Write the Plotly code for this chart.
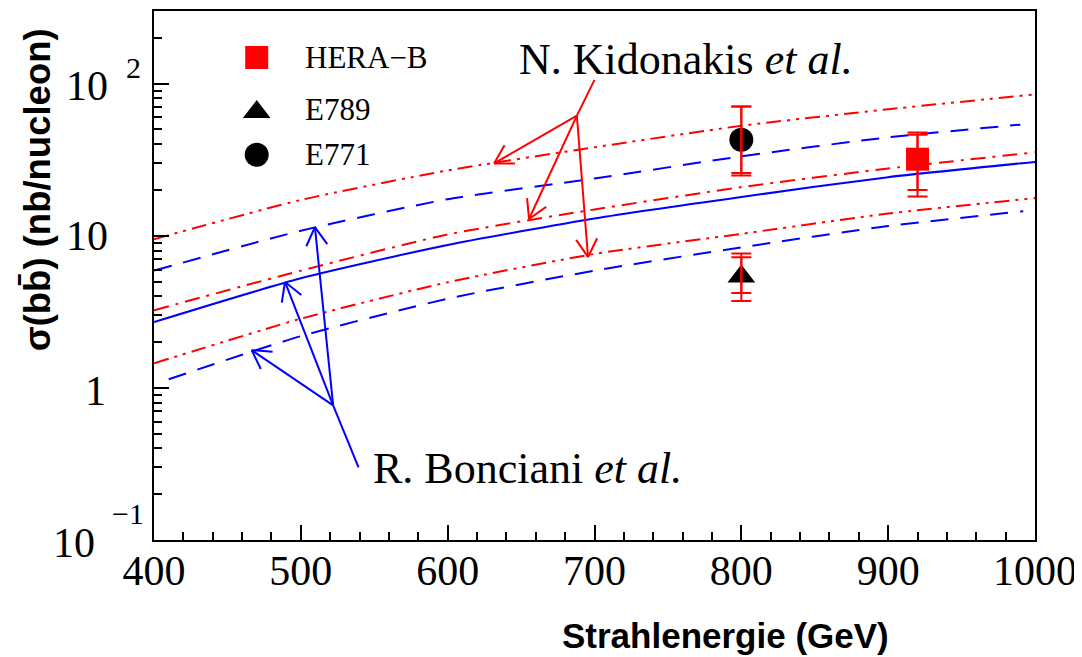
import math
import plotly.graph_objects as go

# ---------------- data ----------------
energy = [400, 500, 600, 700, 800, 900, 1000]
kid_upper = [9.5, 17.2, 26.9, 38.2, 52.9, 67.9, 85.1]
kid_central = [3.24, 5.9, 10.2, 14.9, 20.9, 27.7, 35.4]
kid_lower = [1.45, 2.85, 4.95, 7.6, 10.3, 14.0, 17.7]

bon_energy_upper = [400, 500, 600, 700, 800, 900, 990]
bon_upper = [5.9, 10.8, 17.4, 23.8, 33.3, 44.4, 53.8]
bon_central = [2.71, 5.26, 8.7, 13.0, 18.0, 24.3, 30.6]
bon_energy_lower = [410, 500, 600, 700, 800, 900, 992]
bon_lower = [1.14, 2.19, 3.86, 5.9, 8.4, 11.6, 14.5]

# measurements: energy, value, inner (lo, hi), outer (lo, hi)
hera_E = [920]
hera_val = [31.9]
hera_inner = ([20.0], [46.2])
hera_outer = ([18.1], [47.8])

e789_E = [800]
e789_val = [5.4]
e789_inner = ([4.20], [7.22])
e789_outer = ([3.72], [7.66])

e771_E = [800]
e771_val = [42.8]
e771_inner = ([25.9], [70.8])
e771_outer = ([24.9], [70.8])

legend_names = ["HERA\u2212B", "E789", "E771"]

# annotation arrows (data coords): hub, tail end, tips
kid_hub = (688, 61.7)
kid_tail = (700, 106)
kid_tips = [(631.6, 29.9), (655.4, 12.9), (695.6, 7.24)]
bon_hub = (522, 0.768)
bon_tail = (539.3, 0.30)
bon_tips = [(466.5, 1.77), (489.2, 4.97), (509.6, 11.4)]

# ---------------- layout constants ----------------
OFF = 8  # page body margin in the browser
W, H = 1082 - OFF, 657 - OFF
ML, MT = 154 - OFF, 9 - OFF
PR, PB = 1035 - OFF, 540 - OFF
MR, MB = W - PR, H - PB
PW, PH = PR - ML, PB - MT
XR = [400, 1000]
YR = [-1, 2.478]

RED = "#ff0000"
BLUE = "#0000ff"
SERIF = "Liberation Serif"
SANS = "Liberation Sans"


def to_paper(e, v):
    return ((e - XR[0]) / (XR[1] - XR[0]),
            (math.log10(v) - YR[0]) / (YR[1] - YR[0]))


def px_paper(px, py):
    # px, py: pixel position in the final screenshot
    return (px - OFF - ML) / PW, (PB - (py - OFF)) / PH


fig = go.Figure()

dash_dd = "15px,6px,3px,6px,3px,6px"
dash_d = "15px,7px,3px,7px"
dash_b = "18px,12px"

curves = [
    (energy, kid_upper, RED, dash_dd),
    (bon_energy_upper, bon_upper, BLUE, dash_b),
    (energy, kid_central, RED, dash_d),
    (energy, bon_central, BLUE, "solid"),
    (energy, kid_lower, RED, dash_dd),
    (bon_energy_lower, bon_lower, BLUE, dash_b),
]
for xs, ys, col, dsh in curves:
    fig.add_trace(go.Scatter(x=xs, y=ys, mode="lines", showlegend=False,
                             line=dict(color=col, width=2, dash=dsh, shape="spline", smoothing=0.6),
                             hoverinfo="skip"))

# markers
points = [
    (hera_E, hera_val, "square", RED, 23, hera_inner, hera_outer),
    (e789_E, e789_val, "triangle-up", "black", 24, e789_inner, e789_outer),
    (e771_E, e771_val, "circle", "black", 24, e771_inner, e771_outer),
]
for xs, ys, sym, col, sz, inner, outer in points:
    fig.add_trace(go.Scatter(x=xs, y=ys, mode="markers", showlegend=False,
                             marker=dict(symbol=sym, color=col, size=sz, line=dict(width=0))))
for xs, ys, sym, col, sz, inner, outer in points:
    for lo, hi in (inner, outer):
        fig.add_trace(go.Scatter(
            x=xs, y=ys, mode="markers", showlegend=False,
            marker=dict(size=1, opacity=0),
            error_y=dict(type="data", symmetric=False,
                         array=[h - v for h, v in zip(hi, ys)],
                         arrayminus=[v - l for l, v in zip(lo, ys)],
                         color=RED, thickness=2, width=10)))

# manual legend (overlay axes in paper units)
leg_pos = [(256.7, 55.7), (256.7, 110.5), (256.7, 153.3)]
for (lx, ly), (xs, ys, sym, col, sz, _, _) in zip(leg_pos, points):
    px_, py_ = px_paper(lx, ly)
    fig.add_trace(go.Scatter(x=[px_], y=[py_], xaxis="x2", yaxis="y2", mode="markers",
                             showlegend=False,
                             marker=dict(symbol=sym, color=col, size=sz, line=dict(width=0))))

annotations = []
leg_text_y = [56, 108, 153]
for ty, name in zip(leg_text_y, legend_names):
    ax_, ay_ = px_paper(303, ty)
    annotations.append(dict(x=ax_, y=ay_, xref="paper", yref="paper", text=name,
                            showarrow=False, xanchor="left", yanchor="middle",
                            font=dict(family=SERIF, size=31, color="black")))

# arrows
shapes = []


def add_arrow(hub, tip, col):
    hx, hy = to_paper(*hub)
    tx, ty = to_paper(*tip)
    shapes.append(dict(type="line", xref="paper", yref="paper", x0=hx, y0=hy, x1=tx, y1=ty,
                       line=dict(color=col, width=2)))
    dx, dy = (hx - tx) * PW, (hy - ty) * PH
    n = math.hypot(dx, dy)
    ux, uy = dx / n, dy / n
    L, a = 21, math.radians(30)
    for s in (1, -1):
        rx = ux * math.cos(s * a) - uy * math.sin(s * a)
        ry = ux * math.sin(s * a) + uy * math.cos(s * a)
        shapes.append(dict(type="line", xref="paper", yref="paper", x0=tx, y0=ty,
                           x1=tx + rx * L / PW, y1=ty + ry * L / PH,
                           line=dict(color=col, width=2)))


def add_segment(p, q, col):
    x0, y0 = to_paper(*p)
    x1, y1 = to_paper(*q)
    shapes.append(dict(type="line", xref="paper", yref="paper", x0=x0, y0=y0, x1=x1, y1=y1,
                       line=dict(color=col, width=2)))


add_segment(kid_hub, kid_tail, RED)
for t in kid_tips:
    add_arrow(kid_hub, t, RED)
add_segment(bon_hub, bon_tail, BLUE)
for t in bon_tips:
    add_arrow(bon_hub, t, BLUE)

# text labels
kx, ky = px_paper(686, 58)
annotations.append(dict(x=kx, y=ky, xref="paper", yref="paper", showarrow=False,
                        text="N. Kidonakis <i>et al.</i>", xanchor="center", yanchor="middle",
                        font=dict(family=SERIF, size=44, color="black")))
bx, by = px_paper(371, 468)
annotations.append(dict(x=bx, y=by, xref="paper", yref="paper", showarrow=False,
                        text="R. Bonciani <i>et al.</i>", xanchor="left", yanchor="middle",
                        font=dict(family=SERIF, size=44, color="black")))

# y tick labels (ROOT style)
ylab = [("10", 110, 84, 42), ("2", 124, 66, 30), ("10", 110, 235, 42), ("1", 108, 390, 42),
        ("10", 97, 543, 42), ("\u22121", 110, 513, 30)]
for txt, xr, yc, fs in ylab:
    ax_, ay_ = px_paper(xr, yc)
    anchor = "left" if fs == 30 else "right"
    annotations.append(dict(x=ax_, y=ay_, xref="paper", yref="paper", showarrow=False,
                            text=txt, xanchor=anchor, yanchor="middle",
                            font=dict(family=SERIF, size=fs, color="black")))

# axis titles
tx_, ty_ = px_paper(725, 636)
annotations.append(dict(x=tx_, y=ty_, xref="paper", yref="paper", showarrow=False,
                        text="<b>Strahlenergie (GeV)</b>", xanchor="center", yanchor="middle",
                        font=dict(family=SANS, size=35, color="black")))
yx_, yy_ = px_paper(37, 189)
annotations.append(dict(x=yx_, y=yy_, xref="paper", yref="paper", showarrow=False,
                        text="<b>\u03c3(bb\u0304) (nb/nucleon)</b>", textangle=-90,
                        xanchor="center", yanchor="middle",
                        font=dict(family=SANS, size=36.5, color="black")))

minor_y = [m * 10 ** d for d in (-1, 0, 1) for m in range(2, 10)] + [200]

fig.update_layout(
    width=W, height=H, margin=dict(l=ML, r=MR, t=MT, b=MB, pad=0),
    paper_bgcolor="white", plot_bgcolor="white",
    xaxis=dict(range=XR, showgrid=False, zeroline=False, showline=True, mirror=True,
               linecolor="black", linewidth=2, ticks="inside", ticklen=15, tickwidth=2,
               tickcolor="black", tickmode="array", tickvals=[400, 500, 600, 700, 800, 900, 1000],
               tickfont=dict(family=SERIF, size=42, color="black"), ticklabelstandoff=-7,
               minor=dict(tickmode="linear", tick0=400, dtick=20, ticks="inside", ticklen=8,
                          tickwidth=2, tickcolor="black", showgrid=False)),
    yaxis=dict(type="log", range=YR, showgrid=False, zeroline=False, showline=True, mirror=True,
               linecolor="black", linewidth=2, ticks="inside", ticklen=15, tickwidth=2,
               tickcolor="black", tickmode="array", tickvals=[0.1, 1, 10, 100],
               showticklabels=False,
               minor=dict(tickmode="array", tickvals=minor_y, ticks="inside", ticklen=8,
                          tickwidth=2, tickcolor="black", showgrid=False)),
    xaxis2=dict(range=[0, 1], overlaying="x", visible=False, fixedrange=True),
    yaxis2=dict(range=[0, 1], overlaying="y", visible=False, fixedrange=True),
    annotations=annotations, shapes=shapes, showlegend=False,
)

fig.write_html("out.html")
